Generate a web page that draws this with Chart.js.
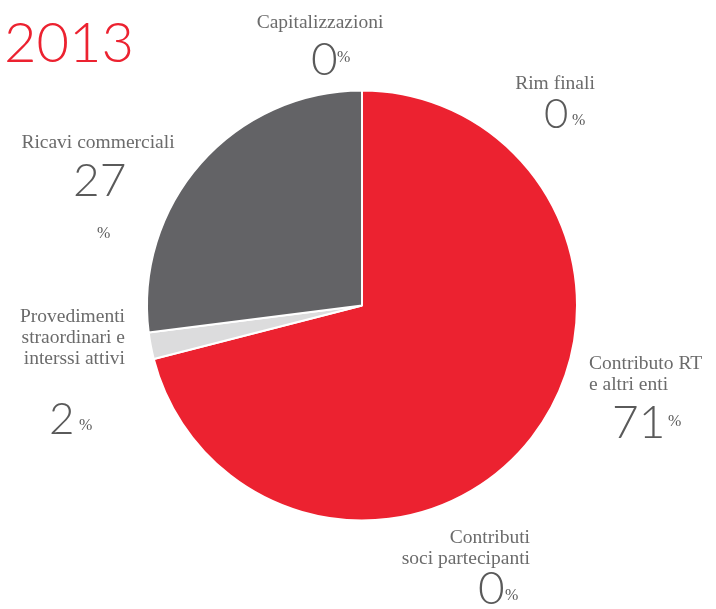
<!DOCTYPE html>
<html>
<head>
<meta charset="utf-8">
<script src="https://cdn.jsdelivr.net/npm/chart.js@4/dist/chart.umd.min.js"></script>
<style>
html,body{margin:0;padding:0;background:#fff;}
#wrap{position:relative;width:716px;height:609px;}
</style>
</head>
<body>
<div id="wrap"><canvas id="c" width="716" height="609"></canvas></div>
<script>
const title = "2013";
const categories = ["Contributo RT e altri enti", "Contributi soci partecipanti", "Provedimenti straordinari e interssi attivi", "Ricavi commerciali", "Capitalizzazioni", "Rim finali"];
const labelLines = [["Contributo RT", "e altri enti"], ["Contributi", "soci partecipanti"], ["Provedimenti", "straordinari e", "interssi attivi"], ["Ricavi commerciali"], ["Capitalizzazioni"], ["Rim finali"]];
const percentages = [71, 0, 2, 27, 0, 0];
const colors = ["#ec2230", "#ec2230", "#dcdcdd", "#636366", "#636366", "#636366"];

// label layout: text anchor, alignment, number position
const labelLayout = [
  {x: 589, y: 369, align: "left", nx: 612, ny: 438, px: 668, py: 426, ns: 46},
  {x: 530, y: 543, align: "right", nx: 478, ny: 604, px: 505, py: 600, ns: 46},
  {x: 125, y: 322, align: "right", nx: 49, ny: 434, px: 79, py: 430, ns: 44},
  {x: 98, y: 148, align: "center", nx: 73, ny: 196, px: 97, py: 238, ns: 46},
  {x: 320, y: 28, align: "center", nx: 311, ny: 75, px: 337, py: 62, ns: 46},
  {x: 555, y: 89, align: "center", nx: 544, ny: 128, px: 572, py: 125, ns: 42}
];

const labelPlugin = {
  id: "labels",
  afterDraw(chart) {
    const ctx = chart.ctx;
    ctx.save();
    ctx.fillStyle = "#ec2230";
    ctx.font = "300 56px Lato, 'Open Sans', sans-serif";
    ctx.textAlign = "left";
    ctx.textBaseline = "alphabetic";
    ctx.fillText(title, 4, 62);
    labelLayout.forEach((L, i) => {
      ctx.fillStyle = "#6b6b6b";
      ctx.font = "19.5px 'Liberation Serif', 'DejaVu Serif', serif";
      ctx.textAlign = L.align;
      labelLines[i].forEach((ln, j) => ctx.fillText(ln, L.x, L.y + j * 21));
      ctx.fillStyle = "#5a5a5a";
      ctx.textAlign = "left";
      ctx.font = "300 " + L.ns + "px Lato, 'Open Sans', sans-serif";
      ctx.fillText(String(percentages[i]), L.nx, L.ny);
      ctx.font = "16px 'Liberation Serif', serif";
      ctx.fillText("%", L.px, L.py);
    });
    ctx.restore();
  }
};

new Chart(document.getElementById("c"), {
  type: "pie",
  data: {
    labels: categories,
    datasets: [{
      data: percentages,
      backgroundColor: colors,
      borderColor: "#ffffff",
      borderWidth: 2
    }]
  },
  options: {
    responsive: false,
    animation: false,
    layout: {padding: {left: 146, right: 138, top: 89, bottom: 87}},
    plugins: {legend: {display: false}, tooltip: {enabled: false}}
  },
  plugins: [labelPlugin]
});
</script>
</body>
</html>
